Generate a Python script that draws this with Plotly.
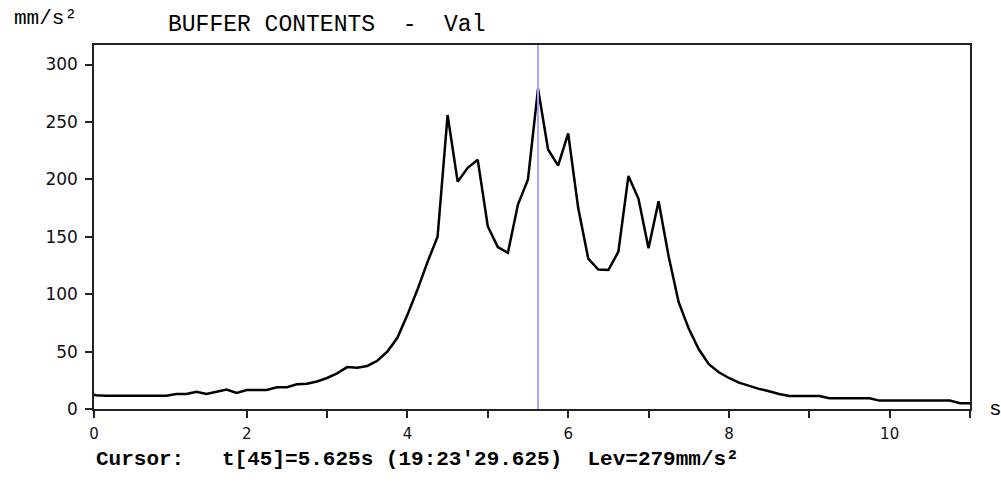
import plotly.graph_objects as go

# sample times (s), sampled every 0.125 s
t = [0.0, 0.125, 0.25, 0.375, 0.5, 0.625, 0.75, 0.875, 1.0, 1.125, 1.25, 1.375,
     1.5, 1.625, 1.75, 1.875, 2.0, 2.125, 2.25, 2.375, 2.5, 2.625, 2.75, 2.875,
     3.0, 3.125, 3.25, 3.375, 3.5, 3.625, 3.75, 3.875, 4.0, 4.125, 4.25, 4.375,
     4.5, 4.625, 4.75, 4.875, 5.0, 5.125, 5.25, 5.375, 5.5, 5.625, 5.75, 5.875,
     6.0, 6.125, 6.25, 6.375, 6.5, 6.625, 6.75, 6.875, 7.0, 7.125, 7.25, 7.375,
     7.5, 7.625, 7.75, 7.875, 8.0, 8.125, 8.25, 8.375, 8.5, 8.625, 8.75, 8.875,
     9.0, 9.125, 9.25, 9.375, 9.5, 9.625, 9.75, 9.875, 10.0, 10.125, 10.25, 10.375,
     10.5, 10.625, 10.75, 10.875, 11.0]

# level values (mm/s²)
level = [14, 12, 11.5, 11.5, 11.5, 11.5, 11.5, 11.5, 11.5, 13, 13, 15,
         13, 15, 17, 14, 16.5, 16.5, 16.5, 19, 19, 21.5, 22, 24,
         27, 31, 36.5, 36, 37.5, 42, 50, 62, 82, 104, 128, 150,
         256, 198, 210, 217, 159, 141, 136, 178, 200, 279, 226, 212,
         240, 175, 131, 121.5, 121, 137, 203, 183, 140, 181, 133, 93,
         70, 52, 39, 32, 27, 23, 20, 17.5, 15.5, 13, 11.3, 11.3,
         11.3, 11.3, 9.3, 9.3, 9.3, 9.3, 9.3, 7.3, 7.3, 7.3, 7.3, 7.3,
         7.3, 7.3, 7.3, 5, 5]

cursor_idx = 45

x_tickvals = [0.1, 2, 3, 4, 5, 6, 7, 8, 9, 10, 11]
x_ticktext = ["0", "2", "", "4", "", "6", "", "8", "", "10", ""]
y_tickvals = [0, 50, 100, 150, 200, 250, 300]

title_text = "BUFFER CONTENTS  -  Val"
unit_text = "mm/s²"
cursor_text = ("Cursor:   t[%d]=%.3fs (19:23'29.625)  Lev=%dmm/s²"
               % (cursor_idx, t[cursor_idx], level[cursor_idx]))

mono = "Liberation Mono"
sans = "DejaVu Sans"

fig = go.Figure()
fig.add_trace(go.Scatter(x=t, y=level, mode="lines",
                         line=dict(color="black", width=2.5),
                         hoverinfo="x+y", showlegend=False))

fig.add_shape(type="line", xref="x", yref="paper",
              x0=t[cursor_idx], x1=t[cursor_idx], y0=0, y1=1,
              line=dict(color="rgb(165,165,255)", width=2), layer="above")

fig.update_layout(
    width=1001, height=493,
    margin=dict(l=94, r=31, t=45, b=84),
    paper_bgcolor="white", plot_bgcolor="white",
    showlegend=False,
    xaxis=dict(range=[0.1, 11], tickvals=x_tickvals, ticktext=x_ticktext,
               ticks="outside", ticklen=7, tickwidth=1.5, tickcolor="#222",
               showgrid=False, zeroline=False,
               showline=True, linecolor="#222", linewidth=1.5, mirror=True,
               tickfont=dict(family=sans, size=15, color="#111"),
               ticklabelstandoff=3),
    yaxis=dict(range=[0, 317], tickvals=y_tickvals,
               ticks="outside", ticklen=7, tickwidth=1.5, tickcolor="#222",
               showgrid=False, zeroline=False,
               showline=True, linecolor="#222", linewidth=1.5, mirror=True,
               tickfont=dict(family=sans, size=17, color="#111"),
               ticklabelstandoff=4),
    annotations=[
        dict(text=unit_text, xref="paper", yref="paper", x=0, y=1,
             xanchor="left", yanchor="middle", showarrow=False,
             xshift=12 - 94, yshift=45 - 18,
             font=dict(family=mono, size=21, color="black")),
        dict(text=title_text, xref="paper", yref="paper", x=0, y=1,
             xanchor="left", yanchor="middle", showarrow=False,
             xshift=166 - 94, yshift=45 - 25,
             font=dict(family=mono, size=23, color="black")),
        dict(text="s", xref="paper", yref="paper", x=1, y=0,
             xanchor="center", yanchor="middle", showarrow=False, xshift=995 - 970,
             font=dict(family=mono, size=21, color="black")),
        dict(text="<b>" + cursor_text + "</b>", xref="paper", yref="paper",
             x=0, y=0, xanchor="left", yanchor="middle",
             showarrow=False, yshift=-(459 - 409),
             font=dict(family=mono, size=21, color="black")),
    ],
)

fig.write_html("out.html")
